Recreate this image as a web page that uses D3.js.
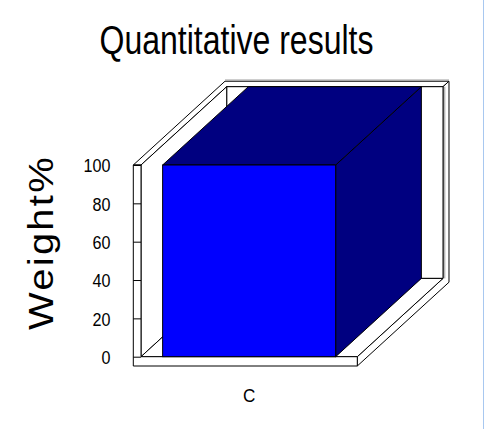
<!DOCTYPE html>
<html>
<head>
<meta charset="utf-8">
<script src="https://cdn.jsdelivr.net/npm/d3@7"></script>
<style>
  html, body { margin: 0; padding: 0; background: #fff; }
  svg { display: block; }
  text { font-family: "Liberation Sans", Arial, sans-serif; fill: #000; }
</style>
</head>
<body>
<script>
// Chart data
const categories = ["C"];
const weights = [100];
const yTicks = [0, 20, 40, 60, 80, 100];
const titleText = "Quantitative results";
const yLabel = "Weight%";

const W = 484, H = 429;
const svg = d3.select("body").append("svg").attr("width", W).attr("height", H);

// Front plane of the plot box
const plot = { left: 141, right: 357.3, bottom: 356.7, top: 165 };
// Oblique depth projection of the 3D box
const DX = 85.7, DY = 78.3;
const WALL = 7.7;     // left wall thickness
const FLOOR = 9.3;    // floor slab thickness
const T = 0.07;       // back wall thickness (in depth units)

const y = d3.scaleLinear().domain([0, 100]).range([plot.bottom, plot.top]);
const x = d3.scaleBand().domain(categories).range([plot.left, plot.right])
  .paddingInner(0.2).paddingOuter(0.1);

const P = (px, py, z) => [px + z * DX, py - z * DY];
const poly = pts => "M" + pts.map(p => p.join(",")).join("L") + "Z";

const g = svg.append("g");
const wallStyle = s => s.attr("fill", "#fff").attr("stroke", "#000").attr("stroke-width", 1)
  .attr("stroke-linejoin", "miter");

const xL0 = plot.left - WALL, xL1 = plot.left, xR = plot.right;
const yTop = y(100), yFt = plot.bottom, yFb = plot.bottom + FLOOR;

// Top faces of the left and back walls (L shape)
g.append("path").call(wallStyle).attr("d", poly([
  P(xL0, yTop, 0), P(xL1, yTop, 0), P(xL1, yTop, 1), P(xR, yTop, 1), P(xR, yTop, 1 + T), P(xL0, yTop, 1 + T)
]));
// Right faces of the back wall and floor
g.append("path").call(wallStyle).attr("d", poly([
  P(xR, yTop, 1), P(xR, yTop, 1 + T), P(xR, yFb, 1 + T), P(xR, yFb, 0), P(xR, yFt, 0), P(xR, yFt, 1)
]));
// Inner face of the back wall
g.append("path").call(wallStyle).attr("d", poly([
  P(xL1, yTop, 1), P(xR, yTop, 1), P(xR, yFt, 1), P(xL1, yFt, 1)
]));
// Inner face of the left wall
g.append("path").call(wallStyle).attr("d", poly([
  P(xL1, yTop, 0), P(xL1, yTop, 1), P(xL1, yFt, 1), P(xL1, yFt, 0)
]));
// Floor top
g.append("path").call(wallStyle).attr("d", poly([
  P(xL1, yFt, 0), P(xR, yFt, 0), P(xR, yFt, 1), P(xL1, yFt, 1)
]));
// Front faces of the left wall and floor
g.append("path").call(wallStyle).attr("d", poly([
  P(xL0, yTop, 0), P(xL1, yTop, 0), P(xL1, yFt, 0), P(xR, yFt, 0), P(xR, yFb, 0), P(xL0, yFb, 0)
]));
// Soft grey shading lines along the back wall's outer edges
g.append("path").attr("fill", "none").attr("stroke", "#999").attr("stroke-width", 1)
  .attr("d", "M" + [P(xL0, yTop - 1.2, 1 + T), P(xR, yTop - 1.2, 1 + T)].map(p => p.join(",")).join("L")
    + "M" + [P(xR + 1.8, yTop, 1), P(xR + 1.8, yFt, 1)].map(p => p.join(",")).join("L"));

// Bars
const bars = g.selectAll("g.bar").data(categories.map((c, i) => ({ c, v: weights[i] })))
  .enter().append("g").attr("class", "bar");
const x0 = d => x(d.c), x1 = d => x(d.c) + x.bandwidth();
bars.append("path").attr("fill", "#000080").attr("stroke", "#000").attr("stroke-width", 1)
  .attr("d", d => poly([P(x1(d), y(d.v), 0), P(x1(d), y(d.v), 1), P(x1(d), y(0), 1), P(x1(d), y(0), 0)]));
bars.append("path").attr("fill", "#000080").attr("stroke", "#000").attr("stroke-width", 1)
  .attr("d", d => poly([P(x0(d), y(d.v), 0), P(x1(d), y(d.v), 0), P(x1(d), y(d.v), 1), P(x0(d), y(d.v), 1)]));
bars.append("rect").attr("fill", "#0000ff").attr("stroke", "#000").attr("stroke-width", 1)
  .attr("x", d => x0(d)).attr("y", d => y(d.v))
  .attr("width", x.bandwidth()).attr("height", d => y(0) - y(d.v));

// Y axis with ticks across the front of the left wall
const SX = 0.85;
const yAxis = svg.append("g").attr("transform", `translate(${plot.left},0)`)
  .call(d3.axisLeft(y).tickValues(yTicks).tickSize(WALL).tickPadding(0).tickFormat(d3.format("d")));
yAxis.select(".domain").remove();
yAxis.selectAll(".tick line").attr("stroke", "#000");
yAxis.selectAll(".tick text")
  .attr("x", -30.5 / SX).attr("transform", `scale(${SX},1)`).attr("dy", "0.36em")
  .attr("font-family", '"Liberation Sans", Arial, sans-serif')
  .attr("font-size", 19).attr("fill", "#000");

// Category labels
svg.selectAll("text.cat").data(categories).enter().append("text").attr("class", "cat")
  .attr("transform", d => `translate(${x(d) + x.bandwidth() / 2},402) scale(0.9,1)`)
  .attr("text-anchor", "middle").attr("font-size", 19).text(d => d);

// Title
svg.append("text").attr("transform", "translate(236.5,53.5) scale(0.8,1)")
  .attr("text-anchor", "middle").attr("font-size", 40).text(titleText);

// Y axis title
svg.append("text").attr("transform", "translate(53,242.5) rotate(-90)")
  .attr("text-anchor", "middle").attr("font-size", 35).attr("letter-spacing", 2)
  .attr("textLength", 175).attr("lengthAdjust", "spacingAndGlyphs").text(yLabel);

// Right frame edge
svg.append("line").attr("x1", 483.5).attr("x2", 483.5).attr("y1", 0).attr("y2", H)
  .attr("stroke", "#a8c8f0").attr("stroke-width", 1);
</script>
</body>
</html>
